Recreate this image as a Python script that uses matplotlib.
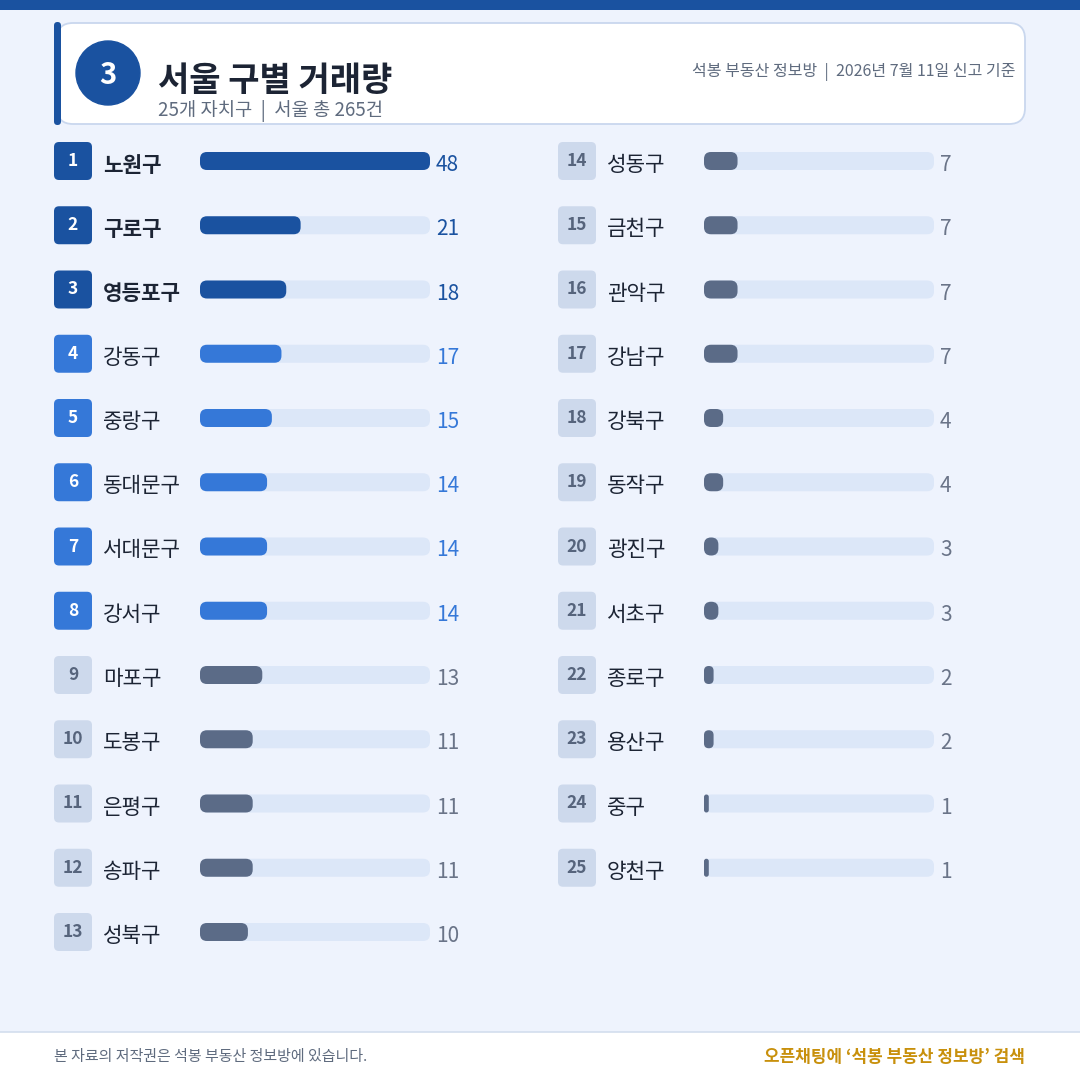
import matplotlib.pyplot as plt
from matplotlib.patches import FancyBboxPatch, Circle, Rectangle

plt.rcParams['font.family'] = ['Noto Sans CJK KR', 'DejaVu Sans']

districts = ['노원구', '구로구', '영등포구', '강동구', '중랑구', '동대문구', '서대문구',
             '강서구', '마포구', '도봉구', '은평구', '송파구', '성북구',
             '성동구', '금천구', '관악구', '강남구', '강북구', '동작구', '광진구',
             '서초구', '종로구', '용산구', '중구', '양천구']
counts = [48, 21, 18, 17, 15, 14, 14, 14, 13, 11, 11, 11, 10,
          7, 7, 7, 7, 4, 4, 3, 3, 2, 2, 1, 1]
title = '서울 구별 거래량'
subtitle = '25개 자치구  |  서울 총 265건'
source = '석봉 부동산 정보방  |  2026년 7월 11일 신고 기준'
footer_left = '본 자료의 저작권은 석봉 부동산 정보방에 있습니다.'
footer_right = '오픈채팅에 ‘석봉 부동산 정보방’ 검색'

BG = '#eef3fd'
DARK = '#1a52a0'
MID = '#3578d8'
GRAY = '#5b6b87'
TRACK = '#dce7f8'
LIGHT_BADGE = '#cdd9ec'
TXT = '#1c2434'
SUB = '#5f6b7e'

fig = plt.figure(figsize=(10.8, 10.8), dpi=100, facecolor=BG)
ax = fig.add_axes([0, 0, 1, 1])
ax.set_xlim(0, 1080)
ax.set_ylim(1080, 0)
ax.axis('off')

# top strip
ax.add_patch(Rectangle((0, 0), 1080, 10, color=DARK, lw=0))

# header card
ax.add_patch(FancyBboxPatch((57, 23), 968, 101, boxstyle='round,pad=0,rounding_size=16',
                            fc='white', ec='#c9d7ee', lw=1.3))
ax.add_patch(FancyBboxPatch((54, 22), 7, 103, boxstyle='round,pad=0,rounding_size=3.5',
                            fc=DARK, ec='none'))
ax.add_patch(Circle((108, 73), 32, color=DARK))
ax.text(108, 75, '3', color='white', fontsize=21, fontweight='bold', ha='center', va='center')
ax.text(158, 80, title, color=TXT, fontsize=24.5, fontweight='bold', ha='left', va='center')
ax.text(158, 111, subtitle, color=SUB, fontsize=13.5, ha='left', va='center')
ax.text(1015, 72, source, color=SUB, fontsize=11.5, ha='right', va='center')

# rows
xmax = max(counts)
for i, (name, val) in enumerate(zip(districts, counts)):
    col = 0 if i < 13 else 1
    row = i if i < 13 else i - 13
    dx = col * 504
    y = 161 + row * 64.25
    rank = i + 1
    if rank <= 3:
        badge, btxt, bar, vcol = DARK, 'white', DARK, DARK
    elif rank <= 8:
        badge, btxt, bar, vcol = MID, 'white', MID, MID
    else:
        badge, btxt, bar, vcol = LIGHT_BADGE, '#56647c', GRAY, '#6a7488'

    ax.add_patch(FancyBboxPatch((54 + dx, y - 19), 38, 38,
                                boxstyle='round,pad=0,rounding_size=5', fc=badge, ec='none'))
    ax.text(73 + dx, y, str(rank), color=btxt, fontsize=12.5, fontweight='bold',
            ha='center', va='center')
    ax.text(103 + dx, y + 4, name, color=TXT, fontsize=15.3,
            fontweight='bold' if rank <= 3 else 'normal', ha='left', va='center')

    x0 = 200 + dx
    ax.add_patch(FancyBboxPatch((x0, y - 9), 230, 18,
                                boxstyle='round,pad=0,rounding_size=7', fc=TRACK, ec='none'))
    w = val / xmax * 230
    ax.add_patch(FancyBboxPatch((x0, y - 9), w, 18,
                                boxstyle='round,pad=0,rounding_size=%.2f' % min(7, w / 2),
                                fc=bar, ec='none'))
    ax.text(436 + dx, y + 4, str(val), color=vcol, fontsize=15, ha='left', va='center')

# footer
ax.add_patch(Rectangle((0, 1032), 1080, 48, fc='white', ec='none'))
ax.plot([0, 1080], [1032, 1032], color='#d3deee', lw=1.2)
ax.text(54, 1057, footer_left, color=SUB, fontsize=10.8, ha='left', va='center')
ax.text(1025, 1057, footer_right, color='#c8900c', fontsize=12.2, fontweight='bold',
        ha='right', va='center')

fig.savefig('out.png', dpi=100, facecolor=BG)
